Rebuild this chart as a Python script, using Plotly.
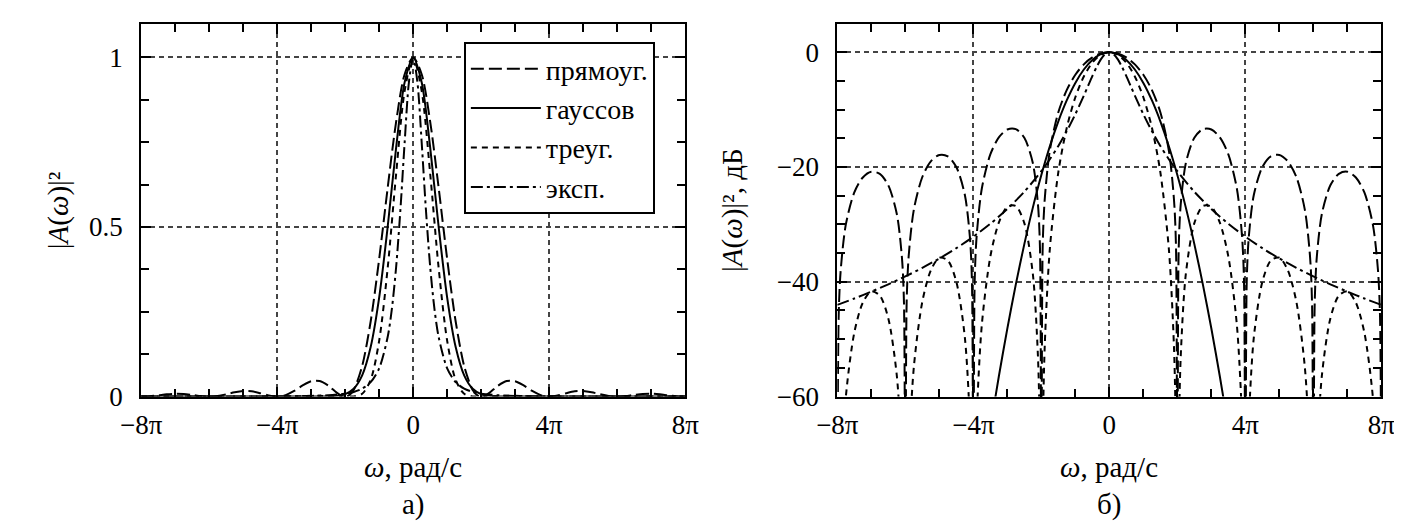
import plotly.graph_objects as go

# Frequency ω expressed in units of π; values read for ω >= 0 (all spectra are even in ω)
K_SINC = [0, 0.25, 0.5, 0.75, 1, 1.25, 1.5, 1.75, 1.9, 1.96,
          2, 2.04, 2.1, 2.25, 2.5, 2.75, 3, 3.25, 3.5, 3.75,
          3.9, 3.96, 4, 4.04, 4.1, 4.25, 4.5, 4.75, 5, 5.25,
          5.5, 5.75, 5.9, 5.96, 6, 6.04, 6.1, 6.25, 6.5, 6.75,
          7, 7.25, 7.5, 7.75, 7.9, 7.96, 8]
# |A(ω)|^2 in dB (-100 marks the spectral nulls, far below the -60 dB floor)
RECT_DB = [0, -0.22, -0.91, -2.11, -3.92, -6.55, -10.45, -17.13, -25.61, -33.81,
           -100, -34.16, -26.48, -19.31, -14.89, -13.40, -13.46, -14.85, -17.81, -23.75,
           -31.86, -39.92, -100, -40.09, -32.29, -24.83, -20.00, -18.14, -17.90, -19.01,
           -21.74, -27.46, -35.45, -43.47, -100, -43.59, -35.74, -28.18, -23.19, -21.20,
           -20.82, -21.82, -24.43, -30.05, -37.99, -45.98, -100]
TRI_DB = [0, -0.45, -1.82, -4.22, -7.84, -13.10, -20.90, -34.26, -51.22, -67.62,
          -100, -68.32, -52.96, -38.62, -29.78, -26.80, -26.92, -29.70, -35.62, -47.50,
          -63.72, -79.84, -100, -80.18, -64.58, -49.66, -40.00, -36.28, -35.80, -38.02,
          -43.48, -54.92, -70.90, -86.94, -100, -87.18, -71.48, -56.36, -46.38, -42.40,
          -41.64, -43.64, -48.86, -60.10, -75.98, -91.96, -100]

K_GAUSS = [0, 0.25, 0.5, 0.75, 1, 1.25, 1.5, 1.75, 2, 2.25, 2.5, 2.75, 3, 3.25,
           3.5, 3.75, 4, 5, 6, 7, 8]
GAUSS_DB = [0, -0.33, -1.34, -3.01, -5.35, -8.36, -12.04, -16.38, -21.40, -27.08,
            -33.44, -40.46, -48.15, -56.51, -65.54, -75.23, -85.60, -133.75, -192.60,
            -262.15, -342.40]

K_EXP = [0, 0.125, 0.25, 0.375, 0.5, 0.625, 0.75, 1, 1.25, 1.5, 1.75, 2, 2.5, 3, 3.5,
         4, 4.5, 5, 5.5, 6, 6.5, 7, 7.5, 8]
EXP_DB = [0, -0.33, -1.25, -2.59, -4.17, -5.86, -7.56, -10.80, -13.72, -16.33, -18.65,
          -20.72, -24.31, -27.31, -29.89, -32.14, -34.15, -35.94, -37.57, -39.07,
          -40.44, -41.72, -42.91, -44.02]

NAMES = ["прямоуг.", "гауссов", "треуг.", "эксп."]
X_TICKVALS = [-8, -4, 0, 4, 8]
X_TICKTEXT = ["−8π", "−4π", "0", "4π", "8π"]
Y1_TICKVALS = [0, 0.5, 1]
Y1_TICKTEXT = ["0", "0.5", "1"]
Y2_TICKVALS = [-60, -40, -20, 0]
Y2_TICKTEXT = ["−60", "−40", "−20", "0"]


def mirror(k, v):
    """Extend values read for ω >= 0 to the symmetric negative side."""
    return [-x for x in k[:0:-1]] + list(k), list(v[:0:-1]) + list(v)


def to_linear(db):
    return [10 ** (d / 10) for d in db]


FONT = "Liberation Serif"
DASHES = ["13px,5px", "solid", "6px,5px", "12px,4px,3px,4px"]
SERIES = [(K_SINC, RECT_DB), (K_GAUSS, GAUSS_DB), (K_SINC, TRI_DB), (K_EXP, EXP_DB)]

fig = go.Figure()
for name, dash, (k, db) in zip(NAMES, DASHES, SERIES):
    xs, ys = mirror(k, db)
    fig.add_trace(go.Scatter(x=xs, y=to_linear(ys), mode="lines", name=name,
                             line=dict(color="black", width=2, dash=dash, shape="spline",
                                       smoothing=0.8),
                             xaxis="x", yaxis="y", showlegend=True))
for name, dash, (k, db) in zip(NAMES, DASHES, SERIES):
    xs, ys = mirror(k, db)
    fig.add_trace(go.Scatter(x=xs, y=ys, mode="lines", name=name,
                             line=dict(color="black", width=2, dash=dash, shape="spline",
                                       smoothing=0.8),
                             xaxis="x2", yaxis="y2", showlegend=False))

tickfont = dict(family=FONT, size=27, color="black")
axis_common = dict(ticks="inside", ticklen=10, tickwidth=1.5, tickcolor="black",
                   showline=True, linewidth=2, linecolor="black", mirror="ticks",
                   showgrid=True, gridcolor="#444444", gridwidth=1.5, griddash="5px,4px",
                   zeroline=False, tickfont=tickfont, tickmode="array")

xaxis_common = dict(axis_common, range=[-8, 8], tickvals=X_TICKVALS, ticktext=X_TICKTEXT,
                    ticklabelstandoff=3,
                    minor=dict(tick0=0, dtick=1, ticks="inside", ticklen=8, tickwidth=1.5,
                               tickcolor="black", showgrid=False))

fig.update_layout(
    width=1402, height=524,
    margin=dict(l=0, r=0, t=0, b=0),
    paper_bgcolor="white", plot_bgcolor="white",
    font=dict(family=FONT, size=27, color="black"),
    xaxis=dict(xaxis_common, domain=[115 / 1402, 673 / 1402], anchor="y"),
    xaxis2=dict(xaxis_common, domain=[829 / 1402, 1387 / 1402], anchor="y2"),
    yaxis=dict(axis_common, domain=[124 / 524, 508 / 524], anchor="x", range=[0, 1.1],
               tickvals=Y1_TICKVALS, ticktext=Y1_TICKTEXT, ticklabelstandoff=11,
               minor=dict(tick0=0, dtick=0.125, ticks="inside", ticklen=8, tickwidth=1.5,
                          tickcolor="black", showgrid=False)),
    yaxis2=dict(axis_common, domain=[124 / 524, 508 / 524], anchor="x2", range=[-60, 5],
                tickvals=Y2_TICKVALS, ticktext=Y2_TICKTEXT, ticklabelstandoff=11,
                minor=dict(tick0=0, dtick=5, ticks="inside", ticklen=8, tickwidth=1.5,
                           tickcolor="black", showgrid=False)),
    legend=dict(x=446 / 1402, y=(524 - 35) / 524, xanchor="left", yanchor="top",
                bgcolor="white", bordercolor="black", borderwidth=2,
                font=dict(family=FONT, size=28, color="black"), itemwidth=70,
                tracegroupgap=0),
    showlegend=True,
)

ann_font = dict(family=FONT, size=29, color="black")
annotations = [
    dict(text="<i>ω</i>, рад/с", x=394 / 1402, y=(524 - 473) / 524),
    dict(text="<i>ω</i>, рад/с", x=1108 / 1402, y=(524 - 473) / 524),
    dict(text="а)", x=394 / 1402, y=(524 - 511) / 524),
    dict(text="б)", x=1108 / 1402, y=(524 - 511) / 524),
    dict(text="|<i>A</i>(<i>ω</i>)|²", x=30 / 1402, y=(524 - 208) / 524, textangle=-90),
    dict(text="|<i>A</i>(<i>ω</i>)|², дБ", x=721 / 1402, y=(524 - 208) / 524, textangle=-90),
]
for a in annotations:
    fig.add_annotation(xref="paper", yref="paper", showarrow=False, xanchor="center",
                       yanchor="middle", font=ann_font, **a)

fig.write_html("out.html")
